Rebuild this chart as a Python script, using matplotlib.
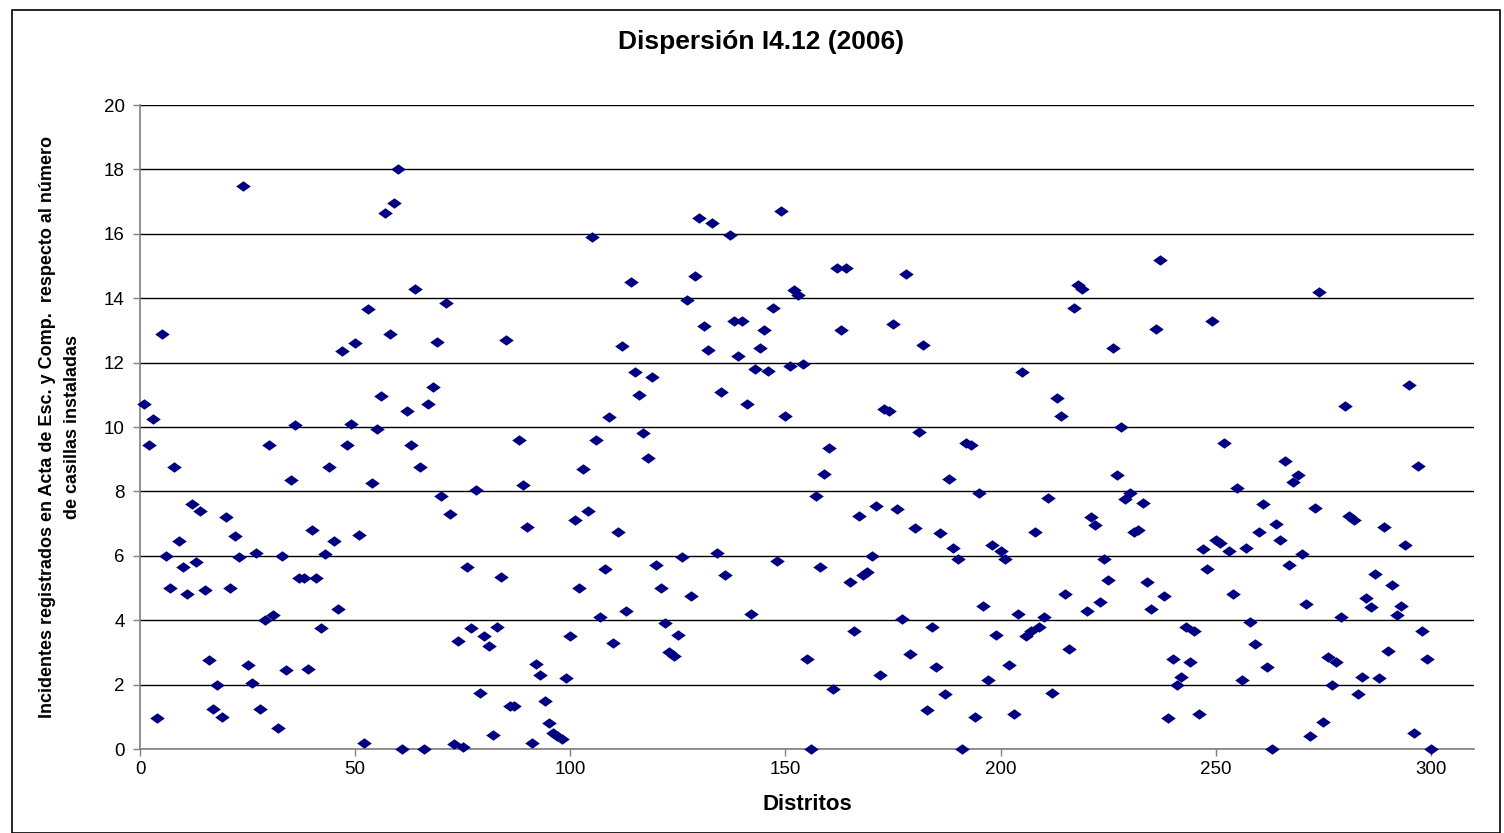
import matplotlib
matplotlib.use("Agg")
import matplotlib.pyplot as plt
from matplotlib.patches import Rectangle
import numpy as np

plt.rcParams['font.family'] = ['Liberation Sans', 'DejaVu Sans']

distritos = list(range(1, 301))
valores = [
    10.7, 9.45, 10.25, 0.95, 12.9, 6.0, 5.0, 8.75, 6.45, 5.65,
    4.8, 7.6, 5.8, 7.4, 4.95, 2.75, 1.25, 2.0, 1.0, 7.2,
    5.0, 6.6, 5.95, 17.5, 2.6, 2.05, 6.1, 1.25, 4.0, 9.45,
    4.15, 0.65, 6.0, 2.45, 8.35, 10.05, 5.3, 5.3, 2.5, 6.8,
    5.3, 3.75, 6.05, 8.75, 6.45, 4.35, 12.35, 9.45, 10.1, 12.6,
    6.65, 0.2, 13.65, 8.25, 9.95, 10.95, 16.65, 12.9, 16.95, 18.0,
    0.0, 10.5, 9.45, 14.3, 8.75, 0.0, 10.7, 11.25, 12.65, 7.85,
    13.85, 7.3, 0.15, 3.35, 0.05, 5.65, 3.75, 8.05, 1.75, 3.5,
    3.2, 0.45, 3.8, 5.35, 12.7, 1.35, 1.35, 9.6, 8.2, 6.9,
    0.2, 2.65, 2.3, 1.5, 0.8, 0.5, 0.4, 0.3, 2.2, 3.5,
    7.1, 5.0, 8.7, 7.4, 15.9, 9.6, 4.1, 5.6, 10.3, 3.3,
    6.75, 12.5, 4.3, 14.5, 11.7, 11.0, 9.8, 9.05, 11.55, 5.7,
    5.0, 3.9, 3.0, 2.9, 3.55, 5.95, 13.95, 4.75, 14.7, 16.5,
    13.15, 12.4, 16.35, 6.1, 11.1, 5.4, 15.95, 13.3, 12.2, 13.3,
    10.7, 4.2, 11.8, 12.45, 13.0, 11.75, 13.7, 5.85, 16.7, 10.35,
    11.9, 14.25, 14.1, 11.95, 2.8, 0.0, 7.85, 5.65, 8.55, 9.35,
    1.85, 14.95, 13.0, 14.95, 5.2, 3.65, 7.25, 5.4, 5.5, 6.0,
    7.55, 2.3, 10.55, 10.5, 13.2, 7.45, 4.05, 14.75, 2.95, 6.85,
    9.85, 12.55, 1.2, 3.8, 2.55, 6.7, 1.7, 8.4, 6.25, 5.9,
    0.0, 9.5, 9.45, 1.0, 7.95, 4.45, 2.15, 6.35, 3.55, 6.15,
    5.9, 2.6, 1.1, 4.2, 11.7, 3.5, 3.65, 6.75, 3.8, 4.1,
    7.8, 1.75, 10.9, 10.35, 4.8, 3.1, 13.7, 14.4, 14.3, 4.3,
    7.2, 6.95, 4.55, 5.9, 5.25, 12.45, 8.5, 10.0, 7.75, 7.95,
    6.75, 6.8, 7.65, 5.2, 4.35, 13.05, 15.2, 4.75, 0.95, 2.8,
    2.0, 2.25, 3.8, 2.7, 3.65, 1.1, 6.2, 5.6, 13.3, 6.5,
    6.4, 9.5, 6.15, 4.8, 8.1, 2.15, 6.25, 3.95, 3.25, 6.75,
    7.6, 2.55, 0.0, 7.0, 6.5, 8.95, 5.7, 8.3, 8.5, 6.05,
    4.5, 0.4, 7.5, 14.2, 0.85, 2.85, 2.0, 2.7, 4.1, 10.65,
    7.25, 7.1, 1.7, 2.25, 4.7, 4.4, 5.45, 2.2, 6.9, 3.05,
    5.1, 4.15, 4.45, 6.35, 11.3, 0.5, 8.8, 3.65, 2.8, 0.0,
]

titulo = "Dispersión I4.12 (2006)"
etiqueta_x = "Distritos"
etiqueta_y = "Incidentes registrados en Acta de Esc. y Comp.  respecto al número\nde casillas instaladas"

W, H = 1504, 833
fig = plt.figure(figsize=(W / 100, H / 100), dpi=100)
ax = fig.add_axes([140 / W, 1 - 749 / H, (1474 - 140) / W, (749 - 105) / H])

diamond = [(-1, 0), (0, 0.72), (1, 0), (0, -0.72), (-1, 0)]
ax.scatter(distritos, valores, marker=diamond, s=110, color='#000080',
           linewidths=0, zorder=3, clip_on=False)

ax.set_xlim(0, 310)
ax.set_ylim(0, 20)
ax.set_xticks(range(0, 301, 50))
ax.set_yticks(range(0, 21, 2))
ax.yaxis.grid(True, color='black', linewidth=1)
ax.set_axisbelow(True)
for s in ['top', 'right']:
    ax.spines[s].set_visible(False)
ax.spines['left'].set_color('#808080')
ax.spines['bottom'].set_color('#808080')
ax.spines['left'].set_linewidth(1.2)
ax.spines['bottom'].set_linewidth(1.2)
ax.tick_params(axis='both', direction='out', length=5, color='#808080',
               labelsize=13.5, width=1)
ax.tick_params(axis='y', pad=6)

fig.text(761 / W, 1 - 42 / H, titulo, ha='center', va='center',
         fontsize=19, fontweight='bold')
fig.text(807 / W, 1 - 805 / H, etiqueta_x, ha='center', va='center',
         fontsize=16, fontweight='bold')
fig.text(60 / W, 1 - 427 / H, etiqueta_y, ha='center', va='center',
         rotation=90, fontsize=13, fontweight='bold', linespacing=1.55)

fig.patches.append(Rectangle((12 / W, 0), (1500 - 12) / W, 1 - 10 / H,
                             transform=fig.transFigure, fill=False,
                             edgecolor='black', linewidth=1.2))

fig.savefig('out.png', dpi=100, facecolor='white')
